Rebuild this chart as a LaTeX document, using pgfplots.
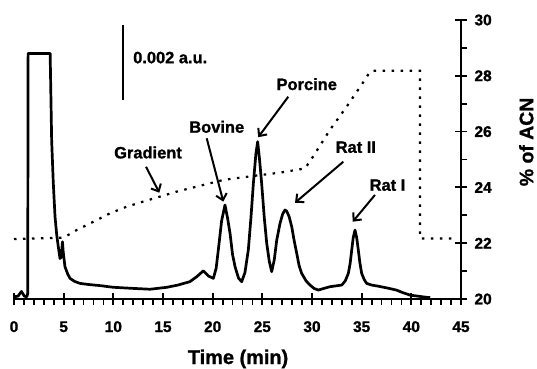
\documentclass[border=0pt]{standalone}
\usepackage{fontspec}
\setmainfont{Liberation Sans}[BoldFeatures={FakeBold=1.2}]
\usepackage{pgfplots}
\pgfplotsset{compat=1.18}
\usetikzlibrary{arrows.meta}
\begin{document}
\begin{tikzpicture}
\begin{axis}[
  scale only axis, width=447bp, height=279bp,
  xmin=0, xmax=45, ymin=20, ymax=30,
  axis x line*=bottom, axis y line*=right,
  axis line style={line width=1.8bp, black},
  xtick={0,5,...,45}, minor x tick num=4,
  ytick={20,22,...,30}, minor y tick num=1,
  tick align=center,
  major tick length=12bp, minor tick length=6bp,
  tick style={black, line width=1.8bp},
  every minor x tick/.append style={yshift=-3bp},
  every minor y tick/.append style={xshift=3bp},
  /pgf/number format/assume math mode=true,
  ticklabel style={font=\fontsize{15.5}{18}\selectfont\bfseries},
  xticklabel style={anchor=base, yshift=-27bp},
  yticklabel style={anchor=west, xshift=4bp},
  clip=false,
]
% chromatogram trace
\addplot[black, line width=2.7bp, line join=round] coordinates {
(0,20.08)(0.4,20.1)(0.75,20.27)(1.05,20.1)(1.3,20.08)(1.38,20.2)(1.42,28.8)(3.64,28.8)
(3.79,25.7)(3.95,24.2)(4.13,22.95)(4.3,22.3)(4.46,21.87)(4.63,21.45)(4.75,21.5)(4.88,22.05)
(4.95,21.7)(5.13,21.16)(5.4,20.9)(5.64,20.74)(6.1,20.63)(6.64,20.56)(7.5,20.52)(8.66,20.48)
(10,20.42)(12,20.38)(13.7,20.35)(15.4,20.42)(16.5,20.5)(17.7,20.62)(18.4,20.8)(19.06,21.01)
(19.6,20.82)(20.07,20.74)(20.35,21.1)(20.57,21.76)(20.9,22.8)(21.24,23.37)(21.5,22.9)
(21.75,22.35)(22.0,21.6)(22.25,21.16)(22.6,20.75)(22.92,20.62)(23.25,20.95)(23.59,21.76)
(23.85,22.9)(24.1,24.15)(24.35,25.2)(24.53,25.64)(24.72,25.0)(24.93,24.15)(25.2,22.9)
(25.44,22.0)(25.7,21.35)(25.94,20.98)(26.2,21.4)(26.45,22.11)(26.78,22.71)(27.05,23.05)
(27.28,23.19)(27.45,23.15)(27.7,22.95)(27.96,22.59)(28.2,22.1)(28.46,21.64)(28.7,21.2)
(28.96,20.92)(29.4,20.65)(29.8,20.5)(30.2,20.38)(30.64,20.32)(31.2,20.38)(31.8,20.44)
(32.4,20.47)(33.0,20.5)(33.35,20.65)(33.66,20.92)(33.85,21.3)(34.0,21.76)(34.15,22.2)
(34.33,22.47)(34.5,22.2)(34.66,21.76)(34.82,21.3)(35.0,20.92)(35.25,20.7)(35.5,20.56)
(36.0,20.5)(36.5,20.47)(37.5,20.4)(38.5,20.32)(39.2,20.22)(39.87,20.14)(40.7,20.1)
(41.55,20.06)(41.9,20.05)
};
% gradient (% ACN)
\addplot[black, line width=2.2bp, dash pattern=on 2.5bp off 6.5bp] coordinates {
(0,22.15)(5,22.2)(6.3,22.47)(8,22.77)(9.66,23.07)(11.35,23.31)(13,23.49)(14.7,23.67)
(16.4,23.85)(18.3,24.02)(21.1,24.27)(24.1,24.41)(26.8,24.53)(29.3,24.68)(30.1,25.1)
(31.8,26.06)(33.5,26.9)(35.2,27.79)(35.85,28.15)(36.3,28.18)(40.87,28.18)(40.87,22.17)
(44.4,22.17)
};
% scale bar
\addplot[black, line width=2bp] coordinates {(10.94,29.82)(10.94,27.13)};
% labels
\tikzset{lab/.style={anchor=base, font=\fontsize{16.5}{19}\selectfont\bfseries, inner sep=0pt}}
\node[lab, anchor=base west] at (axis cs:11.98,28.45) {0.002 a.u.};
\node[lab] at (axis cs:13.49,25.04) {Gradient};
\node[lab] at (axis cs:20.41,25.96) {Bovine};
\node[lab] at (axis cs:29.47,27.49) {Porcine};
\node[lab] at (axis cs:34.41,25.24) {Rat II};
\node[lab] at (axis cs:37.6,23.88) {Rat I};
\tikzset{arr/.style={line width=2bp, -{Straight Barb[length=6bp, width=11bp]}}}
\draw[arr] (axis cs:13.29,24.74) -- (axis cs:14.63,23.81);
\draw[arr] (axis cs:19.40,25.76) -- (axis cs:21.07,23.49);
\draw[arr] (axis cs:27.61,27.25) -- (axis cs:24.59,25.80);
\draw[arr] (axis cs:33.15,24.92) -- (axis cs:28.29,23.45);
\draw[arr] (axis cs:36.34,23.73) -- (axis cs:34.10,22.77);
\node[anchor=base, font=\fontsize{20}{24}\selectfont\bfseries, inner sep=0pt] at (axis description cs:0.5013,-0.233) {Time (min)};
\node[rotate=90, font=\fontsize{19.5}{23}\selectfont\bfseries, inner sep=0pt] at (axis description cs:1.146,0.563) {\% of ACN};
\end{axis}
\pgfresetboundingbox
\path[use as bounding box] ([shift={(-14bp,-70bp)}]current axis.south west) rectangle ([shift={(76bp,20bp)}]current axis.north east);
\end{tikzpicture}
\end{document}
